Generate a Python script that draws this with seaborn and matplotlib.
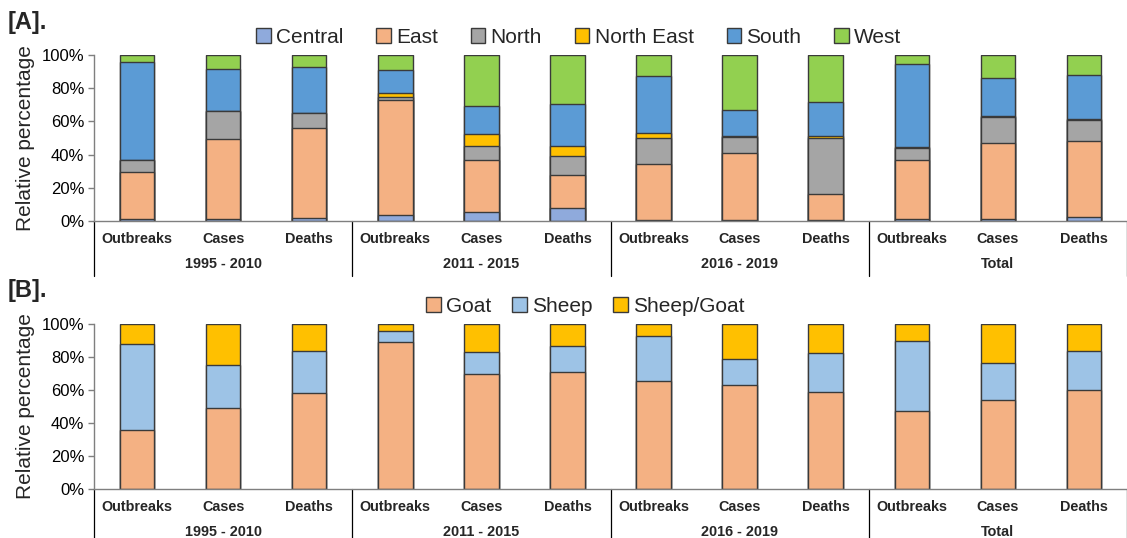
import matplotlib
matplotlib.use("Agg")
import matplotlib.pyplot as plt
import seaborn as sns
import pandas as pd
import numpy as np
from matplotlib.patches import Patch
from matplotlib.transforms import blended_transform_factory

# ---- data -------------------------------------------------------------
periods = ["1995 - 2010", "2011 - 2015", "2016 - 2019", "Total"]
measures = ["Outbreaks", "Cases", "Deaths"]

regions = ["Central", "East", "North", "North East", "South", "West"]
central = [1.0, 1.0, 1.8, 3.8, 5.6, 7.8, 0.6, 0.8, 0.8, 1.4, 1.4, 2.4]
east = [28.3, 48.2, 54.4, 69.1, 31.1, 19.9, 33.9, 40.2, 15.7, 35.3, 45.4, 45.8]
north = [7.4, 17.3, 9.1, 2.0, 8.3, 11.5, 15.3, 9.4, 33.3, 7.5, 15.6, 12.6]
north_east = [0.0, 0.0, 0.0, 2.4, 7.4, 6.0, 3.4, 0.8, 1.2, 0.6, 0.9, 0.8]
south = [59.3, 25.1, 27.3, 13.5, 16.9, 25.1, 34.1, 15.5, 20.5, 49.8, 23.0, 26.4]
west = [4.0, 8.4, 7.4, 9.2, 30.7, 29.7, 12.7, 33.3, 28.5, 5.4, 13.7, 12.0]

species = ["Goat", "Sheep", "Sheep/Goat"]
goat = [35.5, 49.3, 58.0, 89.0, 70.0, 71.0, 65.5, 63.1, 58.8, 47.1, 53.8, 59.8]
sheep = [52.3, 25.8, 25.6, 6.5, 13.2, 15.6, 27.4, 15.4, 23.8, 42.4, 22.5, 23.8]
sheep_goat = [12.2, 24.9, 16.4, 4.5, 16.8, 13.4, 7.1, 21.5, 17.4, 10.5, 23.7, 16.4]

region_colors = ["#8FAADC", "#F4B183", "#A5A5A5", "#FFC000", "#5B9BD5", "#92D050"]
species_colors = ["#F4B183", "#9DC3E6", "#FFC000"]

# ---- style ------------------------------------------------------------
sns.set_theme(style="white")
plt.rcParams["font.family"] = ["Liberation Sans", "DejaVu Sans"]
EDGE = "#3A3A3A"
AXIS = "#7F7F7F"

keys = [f"{p}|{m}" for p in periods for m in measures]


def long_frame(names, series):
    rows = []
    for name, vals in zip(names, series):
        for k, v in zip(keys, vals):
            rows.append({"key": k, "group": name, "value": v})
    df = pd.DataFrame(rows)
    df["group"] = pd.Categorical(df["group"], categories=names, ordered=True)
    df = df.sort_values(["key", "group"])
    df["top"] = df.groupby("key", observed=True)["value"].cumsum()
    return df


def stacked_panel(ax, names, series, colors):
    df = long_frame(names, series)
    # draw cumulative totals from the top segment down so each layer shows its share
    for name, col in reversed(list(zip(names, colors))):
        sub = df[df["group"] == name]
        sns.barplot(data=sub, x="key", y="top", order=keys, color=col,
                    width=0.4, edgecolor=EDGE, linewidth=1.0, errorbar=None,
                    saturation=1, ax=ax)
    ax.set_xlim(-0.5, len(keys) - 0.5)
    ax.set_ylim(0, 100)
    ax.set_yticks(np.arange(0, 101, 20))
    ax.set_yticklabels([f"{t}%" for t in range(0, 101, 20)], fontsize=12)
    ax.set_xticks([])
    ax.set_xlabel("")
    ax.set_ylabel("Relative percentage", fontsize=15, labelpad=5)
    for s in ("top", "right"):
        ax.spines[s].set_visible(False)
    for s in ("left", "bottom"):
        ax.spines[s].set_color(AXIS)
        ax.spines[s].set_linewidth(1.0)
    ax.tick_params(axis="y", left=True, length=4, width=1.0, color=AXIS,
                   direction="out", pad=3, labelcolor="#000000")

    trans = blended_transform_factory(ax.transData, ax.transAxes)
    for i, k in enumerate(keys):
        ax.text(i, -0.11, k.split("|")[1], transform=trans, ha="center",
                va="center", fontsize=10.4, fontweight="bold")
    for g, p in enumerate(periods):
        ax.text(g * 3 + 1, -0.262, p, transform=trans, ha="center",
                va="center", fontsize=10.4, fontweight="bold")
    for b in np.arange(-0.5, len(keys), 3):
        ax.plot([b, b], [0, -0.33], transform=trans, color="#000000",
                lw=0.9, clip_on=False)


fig = plt.figure(figsize=(11.27, 5.38), dpi=100)
ax_a = fig.add_axes([94 / 1127, 317 / 538, 1 - 94 / 1127, 166 / 538])
ax_b = fig.add_axes([94 / 1127, 49 / 538, 1 - 94 / 1127, 165 / 538])

stacked_panel(ax_a, regions, [central, east, north, north_east, south, west],
              region_colors)
stacked_panel(ax_b, species, [goat, sheep, sheep_goat], species_colors)

for names, colors, xc, yc, gap in ((regions, region_colors, 0.5135, 501 / 538, 1.58),
                                   (species, species_colors, 0.5195, 232 / 538, 1.0)):
    handles = [Patch(facecolor=c, edgecolor=EDGE, linewidth=1.0, label=n)
               for n, c in zip(names, colors)]
    fig.legend(handles=handles, loc="center", bbox_to_anchor=(xc, yc),
               ncol=len(names), frameon=False, fontsize=15,
               handlelength=0.7, handleheight=0.7, handletextpad=0.25,
               columnspacing=gap)

fig.text(8 / 1127, 1 - 22 / 538, "[A].", fontsize=17, fontweight="bold",
         ha="left", va="center")
fig.text(8 / 1127, 1 - 291 / 538, "[B].", fontsize=17, fontweight="bold",
         ha="left", va="center")

fig.savefig("out.png", dpi=100)
